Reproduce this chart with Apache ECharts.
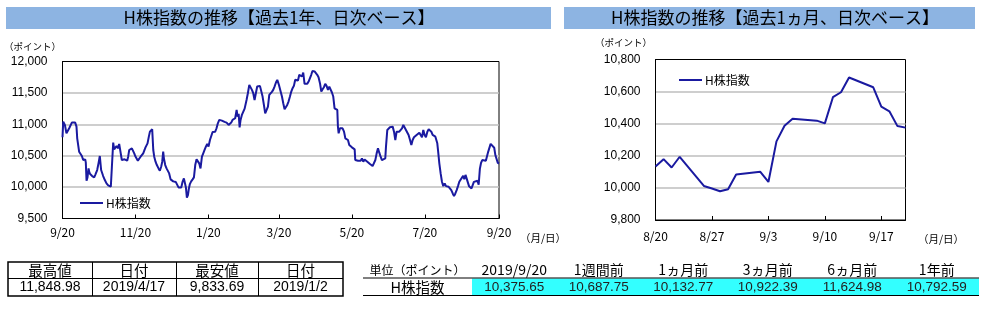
<!DOCTYPE html>
<html><head><meta charset="utf-8">
<script src="https://cdn.jsdelivr.net/npm/echarts@6/dist/echarts.min.js"></script>
<style>html,body{margin:0;padding:0;background:#fff}#c{width:984px;height:314px}</style>
</head><body><div id="c"></div>
<script>
// ---------- DATA ----------
// 1-year chart: x = days since 2018/9/20
const yearTickDays = [0, 61, 122, 181, 242, 303, 365];
const yearTickLabels = ['9/20', '11/20', '1/20', '3/20', '5/20', '7/20', '9/20'];
const yearDays = [
  0, 0.6, 2.0, 3.3, 4.7, 5.6, 6.7, 7.8, 10.6, 11.7,
  12.3, 13.1, 13.9, 15.1, 16.2, 17.3, 18.1, 19.0, 19.5, 20.1,
  20.9, 21.8, 22.3, 23.1, 24.0, 24.8, 25.7, 26.5, 27.3, 28.2,
  29.0, 30.1, 31.2, 32.3, 33.2, 34.0, 35.4, 36.8, 38.2, 39.6,
  40.4, 41.3, 42.4, 43.2, 44.3, 45.2, 46.3, 47.4, 48.5, 49.6,
  50.8, 51.9, 53.0, 54.1, 54.9, 55.8, 56.9, 58.0, 59.1, 60.0,
  60.8, 61.9, 63.0, 64.1, 65.3, 66.4, 67.5, 68.6, 69.4, 70.3,
  71.1, 72.2, 73.1, 74.2, 75.0, 75.9, 76.7, 77.8, 78.9, 80.3,
  81.4, 82.5, 83.4, 84.2, 84.8, 85.9, 87.0, 88.1, 89.2, 90.4,
  91.5, 92.6, 93.7, 94.8, 95.9, 97.0, 98.2, 99.3, 100.4, 101.5,
  102.3, 103.2, 104, 104.9, 105.7, 106.5, 107.6, 108.8, 109.9, 111.0,
  112.1, 113.2, 114.3, 115.4, 116.6, 117.7, 118.8, 119.9, 121.0, 122.1,
  123.3, 124.4, 125.5, 126.6, 127.7, 128.8, 129.9, 131.1, 132.2, 133.3,
  134.4, 135.5, 137.2, 138.9, 140.0, 141.1, 142.2, 143.3, 144.4, 145.6,
  146.4, 147.3, 148.1, 148.9, 150.0, 151.1, 152.3, 153.9, 155.0, 156.2,
  157.3, 158.4, 159.5, 160.6, 161.7, 162.8, 164.0, 165.1, 166.2, 167.3,
  168.4, 169.5, 170.7, 171.8, 172.9, 174.0, 175.1, 176.2, 177.3, 178.5,
  179.6, 181, 182.4, 183.5, 184.6, 185.7, 186.8, 187.9, 189.0, 190.2,
  191.3, 192.4, 193.5, 194.6, 195.7, 196.9, 198.0, 199.1, 200.2, 201.3,
  202.4, 203.5, 204.7, 205.8, 206.9, 208.0, 209, 209.7, 210.8, 211.9,
  213.0, 214.1, 215.3, 216.4, 217.5, 218.6, 219.7, 220.8, 222.0, 223.1,
  224.2, 225.3, 226.4, 227.5, 228.6, 229.8, 230.3, 230.9, 232.0, 233.1,
  234.2, 235.4, 236.5, 237.6, 238.7, 239.8, 240.9, 242.0, 243.2, 244.3,
  244.8, 245.9, 247.1, 248.2, 249.3, 250.4, 251.5, 252.6, 253.8, 254.9,
  256.0, 257.1, 258.2, 259.3, 260.4, 261.6, 262.7, 263.8, 264.9, 266.0,
  267.1, 268.3, 269.9, 270.5, 271.6, 273, 273.8, 274.9, 276.1, 277.2,
  278.3, 279.4, 280.5, 281.6, 282.7, 283.9, 285.0, 286.1, 287.2, 288.3,
  289.4, 290.6, 291.7, 292.8, 293.9, 295.0, 296.1, 297.2, 298.4, 299.5,
  300.6, 301.7, 302.8, 303.9, 305.1, 306.2, 307.3, 308.4, 309.5, 310.6,
  311.8, 312.9, 313.4, 314.0, 315.1, 316.2, 317.3, 318.4, 319.6, 320.7,
  321.8, 322.9, 324.0, 325.1, 326.3, 327.4, 328.5, 329.6, 330.7, 331.8,
  333.0
];
const yearVals = [
  10792.59, 11043, 10990, 10857, 10846, 10937, 10963, 11027, 11027, 10963,
  10777, 10793, 10564, 10548, 10495, 10431, 10405, 10442, 10389, 10101,
  10155, 10298, 10245, 10208, 10229, 10176, 10192, 10155, 10192, 10187,
  10272, 10378, 10495, 10272, 10245, 10176, 10112, 10059, 10027, 10006,
  10006, 10325, 10708, 10601, 10580, 10655, 10617, 10687, 10718, 10431,
  10431, 10442, 10458, 10421, 10484, 10591, 10601, 10617, 10644, 10538,
  10495, 10474, 10421, 10405, 10484, 10506, 10538, 10591, 10633, 10617,
  10697, 10804, 10883, 10910, 10921, 10591, 10484, 10405, 10351, 10298,
  10261, 10325, 10405, 10564, 10458, 10351, 10298, 10272, 10218, 10123,
  10101, 10091, 10091, 10080, 10059, 9995, 9984, 9995, 10085, 10139,
  10123, 9995, 9833.69, 9872, 9979, 10048, 10091, 10123, 10155, 10351,
  10442, 10458, 10378, 10298, 10484, 10538, 10591, 10644, 10687, 10644,
  10750, 10814, 10878, 10883, 10883, 10937, 11016, 11070, 11059, 11059,
  11048, 11038, 11027, 10990, 11016, 11027, 11070, 11059, 11096, 11229,
  11123, 11165, 10952, 11070, 11149, 11165, 11250, 11388, 11495, 11628,
  11644, 11548, 11495, 11388, 11495, 11601, 11601, 11612, 11601, 11442,
  11309, 11176, 11229, 11282, 11468, 11484, 11516, 11548, 11601, 11665,
  11708, 11624.98, 11522, 11442, 11335, 11240, 11255, 11309, 11362, 11442,
  11522, 11575, 11612, 11708, 11718, 11697, 11788, 11814, 11761, 11825,
  11644, 11665, 11644, 11681, 11655, 11788, 11848.98, 11825, 11841, 11814,
  11788, 11750, 11655, 11522, 11559, 11591, 11644, 11612, 11548, 11601,
  11575, 11506, 11442, 11255, 11271, 11229, 10963, 10856, 10936, 10936,
  10936, 10883, 10777, 10803, 10750, 10670, 10654, 10633, 10622, 10601,
  10431, 10457, 10420, 10431, 10420, 10457, 10404, 10441, 10420, 10404,
  10404, 10367, 10351, 10335, 10351, 10431, 10537, 10617, 10548, 10484,
  10431, 10431, 10457, 10644, 10910, 10922.39, 10952, 10963, 10963, 10883,
  10750, 10883, 10910, 10883, 10910, 10936, 10990, 10963, 10910, 10883,
  10830, 10750, 10670, 10750, 10793, 10803, 10830, 10846, 10867, 10878,
  10793, 10910, 10830, 10793, 10883, 10920, 10899, 10883, 10830, 10814,
  10803, 10793, 10697, 10590, 10378, 10218, 10085, 10016, 10058, 10016,
  10032, 10005, 9994, 9952, 9899, 9856, 9899, 9952, 10016, 10085,
  10122
];
// 1-month chart: x = days since 2019/8/20 (= day 334 of the 1-year chart)
const monthStartDay = 334;
const monthTickDays = [0, 7, 14, 21, 28];
const monthTickLabels = ['8/20', '8/27', '9/3', '9/10', '9/17'];
const monthDays = [0, 1, 2, 3, 6, 7, 8, 9, 10, 13, 14, 15, 16, 17, 20, 21, 22, 23, 24, 27, 28, 29, 30, 31];
const monthVals = [10132.77, 10179, 10127, 10194, 10012, 9996, 9979, 9992, 10083, 10100, 10037, 10290,
  10387, 10431, 10419, 10402, 10565, 10596, 10687.75, 10627, 10506, 10477, 10385, 10375.65];
// tables
const seriesName = 'H株指数';
const hiLoHeaders = ['最高値', '日付', '最安値', '日付'];
const hiLoValues = ['11,848.98', '2019/4/17', '9,833.69', '2019/1/2'];
const compHeaders = ['単位（ポイント）', '2019/9/20', '1週間前', '1ヵ月前', '3ヵ月前', '6ヵ月前', '1年前'];
const compValues = [10375.65, 10687.75, 10132.77, 10922.39, 11624.98, 10792.59];
const titleYear = 'H株指数の推移【過去1年、日次ベース】';
const titleMonth = 'H株指数の推移【過去1ヵ月、日次ベース】';
const unitY = '（ポイント）';
const unitX = '（月/日）';

// ---------- STYLE / LAYOUT ----------
const JP = '"Noto Sans CJK JP", sans-serif';
const NUM = '"Liberation Sans", Arial, sans-serif';
const LINE_COLOR = '#1A1AA0';
const GRID_COLOR = '#BEBEBE';
const BAR_COLOR = '#8DB4E2';

const yearData = yearDays.map((d, i) => [d, yearVals[i]])
  .concat(monthDays.map((d, i) => [d + monthStartDay, monthVals[i]]));
const monthData = monthDays.map((d, i) => [d, monthVals[i]]);

function txt(text, x, y, size, family, align, color) {
  return {
    type: 'text', x: x, y: y, silent: true,
    style: {
      text: text, font: size + 'px ' + family, fill: color || '#000',
      align: align || 'center', verticalAlign: 'middle',
      textAlign: align || 'center', textVerticalAlign: 'middle'
    }
  };
}
function ln(x1, y1, x2, y2, w) {
  return { type: 'line', silent: true, shape: { x1: x1, y1: y1, x2: x2, y2: y2 }, style: { stroke: '#000', lineWidth: w || 1 } };
}

const els = [];
// title bars
els.push({ type: 'rect', silent: true, shape: { x: 6, y: 7, width: 545, height: 22 }, style: { fill: BAR_COLOR } });
els.push(txt(titleYear, 279, 18, 17, JP));
els.push({ type: 'rect', silent: true, shape: { x: 564, y: 7, width: 411, height: 22 }, style: { fill: BAR_COLOR } });
els.push(txt(titleMonth, 775, 18, 17, JP));
// units
els.push(txt(unitY, 4, 46, 9.5, JP, 'left'));
els.push(txt(unitY, 595, 42, 9.5, JP, 'left'));
els.push(txt(unitX, 520, 238, 10.5, JP, 'left'));
els.push(txt(unitX, 918, 239, 10.5, JP, 'left'));
// left table
const hlCols = [8, 92, 176, 258, 343];
els.push({ type: 'rect', silent: true, shape: { x: 8, y: 262, width: 335, height: 34 }, style: { fill: 'none', stroke: '#000', lineWidth: 1.5 } });
els.push(ln(8, 278.5, 343, 278.5, 1));
for (let i = 1; i < hlCols.length - 1; i++) els.push(ln(hlCols[i] + 0.5, 262, hlCols[i] + 0.5, 296, 1));
for (let i = 0; i < hiLoHeaders.length; i++) {
  const cx = (hlCols[i] + hlCols[i + 1]) / 2;
  els.push(txt(hiLoHeaders[i], cx, 270.5, 14.5, JP));
  els.push(txt(hiLoValues[i], cx, 287.5, 14, NUM));
}
// right table
const ctLeft = 363, ctLabelRight = 472, ctColW = 84.5, ctRight = ctLabelRight + ctColW * compValues.length;
els.push({ type: 'rect', silent: true, shape: { x: ctLabelRight, y: 278.5, width: ctRight - ctLabelRight, height: 16.5 }, style: { fill: '#33FFFF' } });
els.push(ln(ctLeft, 278, ctRight, 278, 1));
els.push(ln(ctLeft, 295.5, ctRight, 295.5, 1));
els.push(txt(compHeaders[0], (ctLeft + ctLabelRight) / 2, 270, 12, JP));
els.push(txt(seriesName, (ctLeft + ctLabelRight) / 2, 287, 14.5, JP));
for (let i = 0; i < compValues.length; i++) {
  const cx = ctLabelRight + ctColW * (i + 0.5);
  els.push(txt(compHeaders[i + 1], cx, 270, 14, JP));
  els.push(txt(compValues[i].toLocaleString('en-US', { minimumFractionDigits: 2, maximumFractionDigits: 2 }), cx, 287, 13.5, NUM, 'center', '#222'));
}

function xAxisCfg(gi, max, ticks, labels, margin) {
  return {
    type: 'value', gridIndex: gi, min: 0, max: max,
    axisLine: { show: true, lineStyle: { color: '#000', width: 1 } },
    axisTick: { show: true, inside: true, length: 4, customValues: ticks, lineStyle: { color: '#000' } },
    axisLabel: { customValues: ticks, formatter: v => labels[ticks.indexOf(v)] || '', margin: margin, color: '#000', fontFamily: JP, fontSize: 12 },
    splitLine: { show: false }
  };
}
function yAxisCfg(gi, min, max, interval) {
  return {
    type: 'value', gridIndex: gi, min: min, max: max, interval: interval,
    axisLine: { show: true, lineStyle: { color: '#000', width: 1 } },
    axisTick: { show: false },
    axisLabel: { margin: 15, color: '#000', fontFamily: NUM, fontSize: 12 },
    splitLine: { show: true, showMinLine: false, showMaxLine: false, lineStyle: { color: GRID_COLOR, width: 1.5 } }
  };
}
function legendCfg(left, top) {
  return {
    data: [seriesName], left: left, top: top, icon: 'rect', itemWidth: 23, itemHeight: 2, padding: 0,
    selectedMode: false, textStyle: { fontFamily: JP, fontSize: 12, color: '#000', padding: [0, 0, 0, -2] }
  };
}

const chart = echarts.init(document.getElementById('c'), null, { renderer: 'canvas' });
chart.setOption({
  animation: false,
  backgroundColor: '#fff',
  grid: [
    { left: 62.5, top: 61.5, width: 436.5, height: 157, show: true, borderColor: '#000', borderWidth: 1, backgroundColor: 'transparent' },
    { left: 655.5, top: 59.5, width: 250, height: 160.5, show: true, borderColor: '#000', borderWidth: 1, backgroundColor: 'transparent' }
  ],
  xAxis: [xAxisCfg(0, 365, yearTickDays, yearTickLabels, 8), xAxisCfg(1, 31, monthTickDays, monthTickLabels, 10)],
  yAxis: [yAxisCfg(0, 9500, 12000, 500), yAxisCfg(1, 9800, 10800, 200)],
  legend: [legendCfg(80, 197), legendCfg(679, 74)],
  series: [
    { type: 'line', name: seriesName, xAxisIndex: 0, yAxisIndex: 0, data: yearData, showSymbol: false, symbol: 'none',
      lineStyle: { color: LINE_COLOR, width: 2 }, itemStyle: { color: LINE_COLOR } },
    { type: 'line', name: seriesName, xAxisIndex: 1, yAxisIndex: 1, data: monthData, showSymbol: false, symbol: 'none',
      lineStyle: { color: LINE_COLOR, width: 2 }, itemStyle: { color: LINE_COLOR } }
  ],
  graphic: { elements: els }
});
</script>
</body></html>
